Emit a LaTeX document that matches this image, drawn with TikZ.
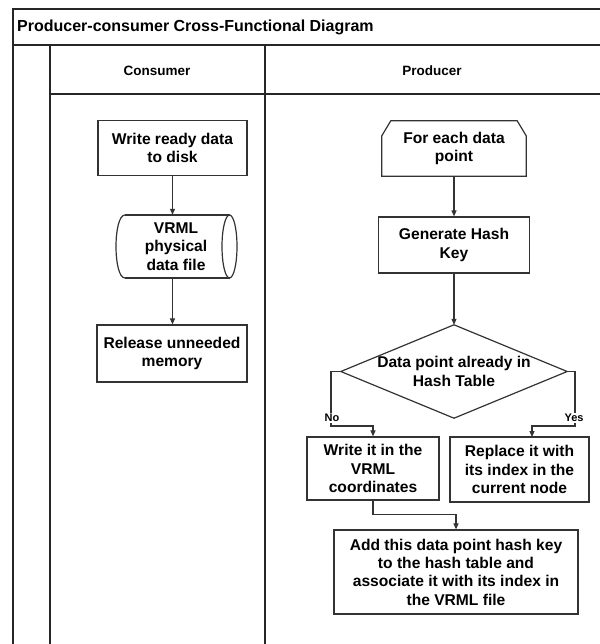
\documentclass[tikz,border=0pt]{standalone}
\usepackage{fontspec}
\setmainfont{Liberation Sans}
\usetikzlibrary{arrows.meta}
\begin{document}
\begin{tikzpicture}[x=1pt,y=-1pt,
 frame/.style={line width=1.6pt, draw=black!85},
 shp/.style={draw=black!80, line width=1.2pt},
 box/.style={shp, align=center, inner sep=0pt, font=\bfseries\fontsize{15.6}{18.3}\selectfont},
 txt/.style={align=center, inner sep=0pt, font=\bfseries\fontsize{15.6}{18.3}\selectfont},
 conn/.style={draw=black!80, line width=1.1pt, -{Triangle[length=6pt,width=5pt]}},
 lbl/.style={font=\bfseries\fontsize{11}{13}\selectfont, fill=white, inner sep=1pt},
 hdr/.style={font=\bfseries\fontsize{13.5}{16}\selectfont, inner sep=0pt}]
\useasboundingbox[fill=white] (0,0) rectangle (599,644);
% frame
\draw[frame] (600,9) -- (13,9) -- (13,645);
\draw[frame] (13,45) -- (600,45);
\draw[frame] (50,45) -- (50,645);
\draw[frame] (50,94) -- (600,94);
\draw[frame] (265,45) -- (265,645);
\node[anchor=west, font=\bfseries\fontsize{16}{19}\selectfont, inner sep=0pt] (title) at (17,27) {Producer-consumer Cross-Functional Diagram};
\node[hdr] (hc) at (157,71) {Consumer};
\node[hdr] (hp) at (432,71) {Producer};
% consumer lane
\node[box, minimum width=149, minimum height=55] (w1) at (172.5,148) {Write ready data\\to disk};
\node[txt, minimum width=121, minimum height=63] (cyl) at (176,246.5) {VRML\\physical\\data file};
\draw[shp] (125,215) -- (229.5,215);
\draw[shp] (125,278) -- (229.5,278);
\draw[shp] (125,215) .. controls (113,215) and (113,278) .. (125,278);
\draw[shp] (229.5,246.5) ellipse [x radius=7.5pt, y radius=31.5pt];
\node[box, minimum width=150, minimum height=57] (r1) at (172,353.5) {Release unneeded\\memory};
\draw[conn] (w1.south) -- (w1.south |- cyl.north);
\draw[conn] (w1.south |- cyl.south) -- (w1.south |- r1.north);
% producer lane
\node[txt, minimum width=144, minimum height=55] (p1) at (454,148.5) {For each data\\point};
\draw[shp] (p1.south west) -- ([yshift=-15pt]p1.north west) -- ([xshift=9pt]p1.north west) -- ([xshift=-9pt]p1.north east) -- ([yshift=-15pt]p1.north east) -- (p1.south east) -- cycle;
\node[box, minimum width=151, minimum height=56] (p2) at (454,245) {Generate Hash\\Key};
\node[txt, minimum width=226, minimum height=93] (d) at (454,371.5) {Data point already in\\Hash Table};
\draw[shp] (d.north) -- (d.east) -- (d.south) -- (d.west) -- cycle;
\node[box, minimum width=132, minimum height=63] (n1) at (373,468.5) {Write it in the\\VRML\\coordinates};
\node[box, minimum width=139, minimum height=65] (n2) at (519.5,469.5) {Replace it with\\its index in the\\current node};
\node[box, minimum width=244, minimum height=84] (n3) at (456,572) {Add this data point hash key\\to the hash table and\\associate it with its index in\\the VRML file};
\draw[conn] (p1.south) -- (p2.north);
\draw[conn] (p2.south) -- (d.north);
\coordinate (no1) at (331,371.5);
\coordinate (no2) at (331,426);
\coordinate (ye1) at (575,371.5);
\coordinate (ye2) at (575,426);
\draw[conn] (d.west) -- (no1) -- (no2) -| (n1.north);
\draw[conn] (d.east) -- (ye1) -- (ye2) -| (532,437);
\node[lbl] (lno) at (332,418) {No};
\node[lbl] (lye) at (574,418) {Yes};
\draw[conn] (n1.south) -- ++(0,14) -| (n3.north);
\end{tikzpicture}
\end{document}
